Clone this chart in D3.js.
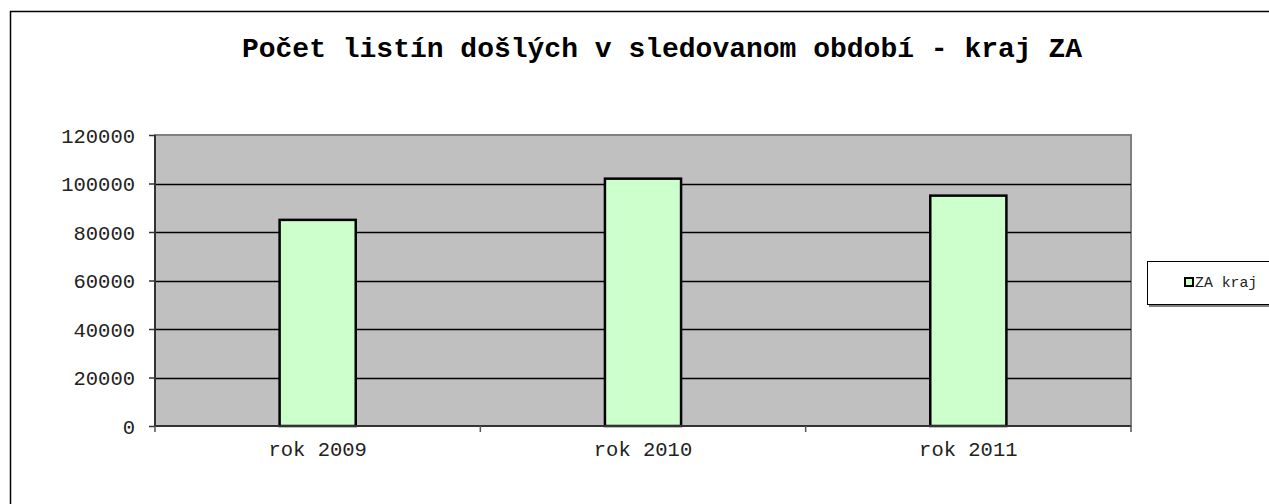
<!DOCTYPE html>
<html>
<head>
<meta charset="utf-8">
<script src="https://cdn.jsdelivr.net/npm/d3@7"></script>
<style>
  body { margin: 0; background: #fff; }
  text { font-family: "Liberation Mono", "Courier New", monospace; }
</style>
</head>
<body>
<svg id="chart" width="1269" height="504"></svg>
<script>
var categories = [ "rok 2009", "rok 2010", "rok 2011" ];
var values = [ 85000, 102000, 95000 ];
var yTicks = [ 0, 20000, 40000, 60000, 80000, 100000, 120000 ];
var seriesName = "ZA kraj";
var title = "Počet listín došlých v sledovanom období - kraj ZA";

var svg = d3.select( "#chart" );
var m = { left: 155, top: 135, right: 1131, bottom: 426 };

// outer chart frame, runs off the right and bottom
svg.append( "rect" )
    .attr( "x", 10.5 ).attr( "y", 11.5 )
    .attr( "width", 1300 ).attr( "height", 600 )
    .attr( "fill", "#fff" ).attr( "stroke", "#000" ).attr( "stroke-width", 1.5 );

svg.append( "text" )
    .attr( "x", 662 ).attr( "y", 57 )
    .attr( "text-anchor", "middle" )
    .style( "font-size", "28px" ).style( "font-weight", "bold" )
    .text( title );

var x = d3.scaleBand().domain( categories ).range( [ m.left, m.right ] );
var y = d3.scaleLinear().domain( [ 0, 120000 ] ).range( [ m.bottom, m.top ] );

// plot area
svg.append( "rect" )
    .attr( "x", m.left ).attr( "y", m.top )
    .attr( "width", m.right - m.left ).attr( "height", m.bottom - m.top )
    .attr( "fill", "#c0c0c0" ).attr( "stroke", "#808080" ).attr( "stroke-width", 2 );

svg.append( "g" ).selectAll( "line" )
    .data( yTicks.filter( function( d ) { return d > 0 && d < 120000; } ) )
    .enter().append( "line" )
    .attr( "x1", m.left ).attr( "x2", m.right )
    .attr( "y1", function( d ) { return Math.round( y( d ) ) + 0.5; } )
    .attr( "y2", function( d ) { return Math.round( y( d ) ) + 0.5; } )
    .attr( "stroke", "#000" ).attr( "stroke-width", 1.3 );

// bars
var bw = x.bandwidth() * 0.234;
svg.append( "g" ).selectAll( "rect" )
    .data( values )
    .enter().append( "rect" )
    .attr( "x", function( d, i ) { return x( categories[ i ] ) + x.bandwidth() / 2 - bw / 2; } )
    .attr( "y", function( d ) { return y( d ); } )
    .attr( "width", bw )
    .attr( "height", function( d ) { return m.bottom - y( d ); } )
    .attr( "fill", "#ccffcc" ).attr( "stroke", "#000" ).attr( "stroke-width", 2.5 );

// y axis
var yAxis = svg.append( "g" )
    .attr( "transform", "translate(" + m.left + ",0)" )
    .call( d3.axisLeft( y ).tickValues( yTicks ).tickSize( 6 ).tickPadding( 14 ).tickFormat( d3.format( "d" ) ) );
yAxis.select( ".domain" ).attr( "stroke", "#333" ).attr( "stroke-width", 2 ).attr( "d", "M0," + m.bottom + "V" + m.top );
yAxis.selectAll( ".tick line" ).attr( "stroke", "#333" ).attr( "stroke-width", 1.5 );
yAxis.selectAll( ".tick text" )
    .attr( "fill", "#222" ).attr( "dy", "0.36em" )
    .style( "font-size", "20.5px" ).style( "font-family", "Liberation Mono, monospace" );

// x axis: ticks on category boundaries
var xAxis = svg.append( "g" ).attr( "transform", "translate(0," + m.bottom + ")" );
xAxis.append( "line" )
    .attr( "x1", m.left ).attr( "x2", m.right )
    .attr( "stroke", "#333" ).attr( "stroke-width", 2 );
xAxis.selectAll( "line.tk" )
    .data( categories.concat( [ null ] ) )
    .enter().append( "line" ).attr( "class", "tk" )
    .attr( "x1", function( d, i ) { return m.left + i * x.step(); } )
    .attr( "x2", function( d, i ) { return m.left + i * x.step(); } )
    .attr( "y1", 0 ).attr( "y2", 6 )
    .attr( "stroke", "#555" ).attr( "stroke-width", 1.5 );
xAxis.selectAll( "text" )
    .data( categories )
    .enter().append( "text" )
    .attr( "x", function( d ) { return x( d ) + x.bandwidth() / 2; } )
    .attr( "y", 30 )
    .attr( "text-anchor", "middle" ).attr( "fill", "#222" )
    .style( "font-size", "20.5px" )
    .text( function( d ) { return d; } );

// legend
var lg = svg.append( "g" ).attr( "transform", "translate(1147,261)" );
lg.append( "rect" ).attr( "x", 2 ).attr( "y", 2 ).attr( "width", 140 ).attr( "height", 44 ).attr( "fill", "#808080" );
lg.append( "rect" ).attr( "x", 0.5 ).attr( "y", 0.5 ).attr( "width", 140 ).attr( "height", 43 )
    .attr( "fill", "#fff" ).attr( "stroke", "#000" );
lg.append( "rect" ).attr( "x", 38 ).attr( "y", 17 ).attr( "width", 8 ).attr( "height", 8 )
    .attr( "fill", "#ccffcc" ).attr( "stroke", "#000" ).attr( "stroke-width", 2 );
lg.append( "text" ).attr( "x", 48 ).attr( "y", 26 )
    .attr( "fill", "#222" ).style( "font-size", "14.8px" )
    .text( seriesName );
</script>
</body>
</html>
